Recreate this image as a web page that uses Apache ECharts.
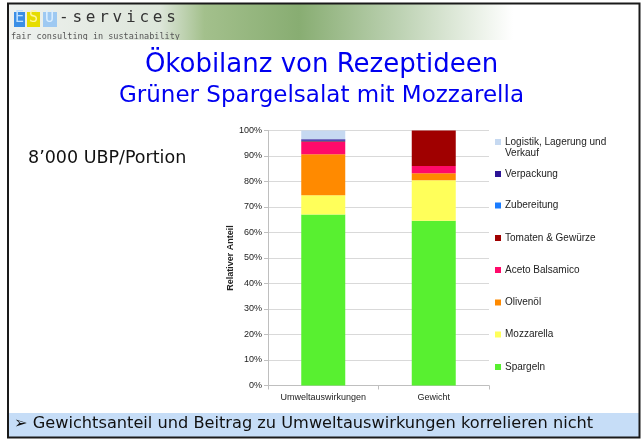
<!DOCTYPE html>
<html>
<head>
<meta charset="utf-8">
<script src="https://cdn.jsdelivr.net/npm/echarts@6/dist/echarts.min.js"></script>
<style>
  html, body { margin: 0; padding: 0; background: #fff; }
  #main { width: 643px; height: 441px; }
</style>
</head>
<body>
<div id="main"></div>
<script>
// Kategorien und Anteile (in %) pro Bestandteil
var categories = ['Umweltauswirkungen', 'Gewicht'];
var spargeln = [67.1, 64.6];
var mozzarella = [7.5, 15.9];
var olivenoel = [16.1, 2.7];
var aceto = [4.8, 2.9];
var tomaten = [0.3, 13.9];
var zubereitung = [0.2, 0];
var verpackung = [0.6, 0];
var logistik = [3.4, 0];
var yTicks = [0, 10, 20, 30, 40, 50, 60, 70, 80, 90, 100];

var chart = echarts.init(document.getElementById('main'));

var names = ['Spargeln', 'Mozzarella', 'Olivenöl', 'Aceto Balsamico', 'Tomaten & Gewürze', 'Zubereitung', 'Verpackung', 'Logistik, Lagerung und Verkauf'];
var values = [spargeln, mozzarella, olivenoel, aceto, tomaten, zubereitung, verpackung, logistik];
var colors = ['#58f030', '#ffff5a', '#ff8a00', '#ff0a6a', '#a00000', '#1a7cff', '#2c1496', '#c6d9f1'];
// Legendenpositionen (y oben), wie im Excel-Original
var legendTops = [361, 328.5, 296.5, 264, 232, 199.5, 168, 136];

var series = names.map(function (n, i) {
  return {
    name: n,
    type: 'bar',
    stack: 'total',
    barWidth: 44,
    itemStyle: { color: colors[i] },
    emphasis: { disabled: true },
    data: values[i]
  };
});

var legends = names.map(function (n, i) {
  return {
    data: [n],
    left: 495,
    top: legendTops[i],
    padding: 0,
    orient: 'vertical',
    icon: 'rect',
    itemWidth: 6,
    itemHeight: 6,
    itemGap: 0,
    selectedMode: false,
    // zweite Zeile "Verkauf" kommt als eigener Text darunter
    formatter: function (name) {
      return name === 'Logistik, Lagerung und Verkauf' ? 'Logistik, Lagerung und' : name;
    },
    textStyle: { fontFamily: 'Liberation Sans', fontSize: 10, color: '#222', lineHeight: 12, padding: [0, 0, 0, -1] }
  };
});

// ESU-services Logo Buchstaben
var logoText = '-services';
var logoGraphics = [];
for (var k = 0; k < logoText.length; k++) {
  logoGraphics.push({
    type: 'text', left: 59 + k * 13.4, top: 10,
    style: { text: logoText[k], font: '16px "DejaVu Sans Mono"', fill: '#333' }
  });
}

var option = {
  animation: false,
  backgroundColor: '#fff',
  grid: { left: 268, right: 154, top: 130.5, bottom: 55.5 },
  legend: legends,
  xAxis: {
    type: 'category',
    data: categories,
    axisLine: { lineStyle: { color: '#bfbfbf' } },
    axisTick: { show: true, length: 4, lineStyle: { color: '#bfbfbf' } },
    axisLabel: { interval: 0, fontFamily: 'Liberation Sans', fontSize: 9, color: '#222', margin: 8 }
  },
  yAxis: {
    type: 'value',
    min: 0,
    max: 100,
    interval: 10,
    name: 'Relativer Anteil',
    nameLocation: 'middle',
    nameGap: 32,
    nameTextStyle: { fontFamily: 'Liberation Sans', fontSize: 9, fontWeight: 'bold', color: '#222' },
    axisLine: { show: true, lineStyle: { color: '#bfbfbf' } },
    axisTick: { show: true, length: 4, lineStyle: { color: '#bfbfbf' } },
    axisLabel: {
      fontFamily: 'Liberation Sans', fontSize: 9, color: '#222', margin: 6,
      formatter: function (v) { return yTicks.indexOf(v) >= 0 ? v + '%' : ''; }
    },
    splitLine: { lineStyle: { color: '#d9d9d9' } }
  },
  series: series,
  graphic: [
    // Kopfbild
    {
      type: 'rect', shape: { x: 9, y: 4, width: 630, height: 37 }, z: -10,
      style: {
        fill: new echarts.graphic.LinearGradient(0, 0, 1, 0, [
          { offset: 0, color: '#eef1ef' },
          { offset: 0.24, color: '#dde6da' },
          { offset: 0.31, color: '#a3c08c' },
          { offset: 0.46, color: '#88ad72' },
          { offset: 0.62, color: '#bdd2b3' },
          { offset: 0.8, color: '#ffffff' },
          { offset: 1, color: '#ffffff' }
        ])
      }
    },
    { type: 'rect', shape: { x: 14, y: 12, width: 11, height: 15 }, style: { fill: '#3a8ee6' } },
    { type: 'rect', shape: { x: 27, y: 12, width: 13, height: 15 }, style: { fill: '#e6dc00' } },
    { type: 'rect', shape: { x: 43, y: 12, width: 14, height: 15 }, style: { fill: '#9ec9f2' } },
    { type: 'text', left: 15, top: 11, style: { text: 'E', font: '15px "DejaVu Sans Mono"', fill: '#bfe0ff' } },
    { type: 'text', left: 29, top: 11, style: { text: 'S', font: '15px "DejaVu Sans Mono"', fill: '#fff59a' } },
    { type: 'text', left: 45, top: 11, style: { text: 'U', font: '15px "DejaVu Sans Mono"', fill: '#dcefff' } }
  ].concat(logoGraphics).concat([
    { type: 'text', left: 11, top: 32, style: { text: 'fair consulting in sustainability', font: '8.5px "DejaVu Sans Mono"', fill: '#555' } },
    { type: 'rect', shape: { x: 9, y: 40, width: 630, height: 3 }, style: { fill: '#fff' } },
    // Titel
    { type: 'text', left: 'center', top: 52, style: { text: 'Ökobilanz von Rezeptideen', font: '26px "DejaVu Sans"', fill: '#0000f0' } },
    { type: 'text', left: 'center', top: 85, style: { text: 'Grüner Spargelsalat mit Mozzarella', font: '23px "DejaVu Sans"', fill: '#0000f0' } },
    { type: 'text', left: 28, top: 149, style: { text: '8’000 UBP/Portion', font: '17.5px "DejaVu Sans"', fill: '#111' } },
    // zweite Legendenzeile
    { type: 'text', left: 505, top: 148, style: { text: 'Verkauf', font: '10px "Liberation Sans"', fill: '#222' } },
    // Fusszeile
    { type: 'rect', shape: { x: 9, y: 413, width: 630, height: 24 }, style: { fill: '#c6ddf7' } },
    { type: 'text', left: 14, top: 416, style: { text: '➢ Gewichtsanteil und Beitrag zu Umweltauswirkungen korrelieren nicht', font: '16.2px "DejaVu Sans"', fill: '#111' } },
    // Rahmen
    { type: 'rect', shape: { x: 8, y: 3.5, width: 631.5, height: 434 }, style: { fill: 'none', stroke: '#1a1a1a', lineWidth: 2 }, z: 100 }
  ])
};

chart.setOption(option);
</script>
</body>
</html>
